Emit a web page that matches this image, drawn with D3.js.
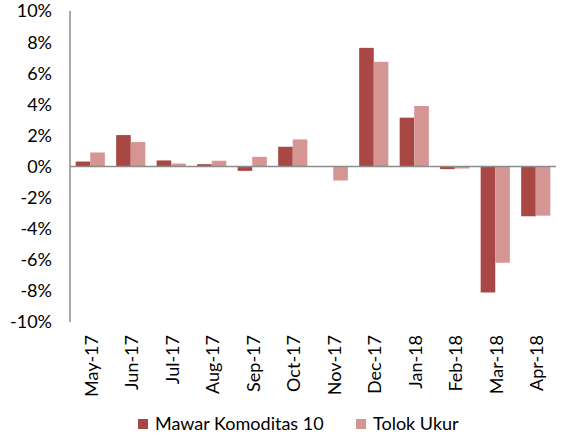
<!DOCTYPE html>
<html>
<head>
<meta charset="utf-8">
<script src="https://cdn.jsdelivr.net/npm/d3@7"></script>
<style>
  body { margin: 0; background: #fff; }
  svg text { font-family: Lato, "Open Sans", sans-serif; fill: #000; }
</style>
</head>
<body>
<div id="chart"></div>
<script>
var months = ["May-17", "Jun-17", "Jul-17", "Aug-17", "Sep-17", "Oct-17",
  "Nov-17", "Dec-17", "Jan-18", "Feb-18", "Mar-18", "Apr-18"];
var seriesNames = ["Mawar Komoditas 10", "Tolok Ukur"];
var mawar = [0.32, 2.02, 0.39, 0.15, -0.28, 1.27, 0, 7.63, 3.14, -0.17, -8.1, -3.2];
var tolok = [0.9, 1.57, 0.19, 0.37, 0.62, 1.74, -0.9, 6.73, 3.89, -0.13, -6.19, -3.16];
var yTicks = [-10, -8, -6, -4, -2, 0, 2, 4, 6, 8, 10];
var colors = ["#a94744", "#d49593"];

var width = 563, height = 435;
var margin = {left: 70, right: 7, top: 11, bottom: 113};

var svg = d3.select("#chart").append("svg")
  .attr("width", width)
  .attr("height", height);

var x = d3.scaleBand()
  .domain(months)
  .range([margin.left, width - margin.right])
  .paddingInner(0.28)
  .paddingOuter(0.14);

var xs = d3.scaleBand()
  .domain([0, 1])
  .range([0, x.bandwidth()]);

var y = d3.scaleLinear()
  .domain([-10, 10])
  .range([height - margin.bottom, margin.top]);

// y labels
svg.append("g").selectAll("text")
  .data(yTicks)
  .enter().append("text")
  .attr("x", 52)
  .attr("y", function(d) { return y(d); })
  .attr("dy", "0.36em")
  .attr("text-anchor", "end")
  .style("font-size", "18px")
  .text(function(d) { return d + "%"; });

// bars
var data = [mawar, tolok];
data.forEach(function(vals, s) {
  svg.append("g").selectAll("rect")
    .data(vals)
    .enter().append("rect")
    .attr("x", function(d, i) { return x(months[i]) + xs(s); })
    .attr("width", xs.bandwidth())
    .attr("y", function(d) { return y(Math.max(0, d)); })
    .attr("height", function(d) { return Math.abs(y(d) - y(0)); })
    .attr("fill", colors[s]);
});

// axes lines
svg.append("line")
  .attr("x1", margin.left).attr("x2", margin.left)
  .attr("y1", y(10)).attr("y2", y(-10))
  .attr("stroke", "#8c8c8c").attr("stroke-width", 1.5);
svg.append("line")
  .attr("x1", margin.left).attr("x2", width - margin.right)
  .attr("y1", y(0)).attr("y2", y(0))
  .attr("stroke", "#8c8c8c").attr("stroke-width", 1.5);

// x labels
svg.append("g").selectAll("text")
  .data(months)
  .enter().append("text")
  .attr("transform", function(d) {
    return "translate(" + (x(d) + x.bandwidth() / 2 + 1) + ",335) rotate(-90)";
  })
  .attr("dy", "0.36em")
  .attr("text-anchor", "end")
  .style("font-size", "18px")
  .text(function(d) { return d; });

// legend
var legendX = [138, 356];
seriesNames.forEach(function(name, i) {
  svg.append("rect")
    .attr("x", legendX[i]).attr("y", 419)
    .attr("width", 10).attr("height", 10)
    .attr("fill", colors[i]);
  svg.append("text")
    .attr("x", legendX[i] + 17).attr("y", 424)
    .attr("dy", "0.36em")
    .style("font-size", "18px")
    .text(name);
});
</script>
</body>
</html>
